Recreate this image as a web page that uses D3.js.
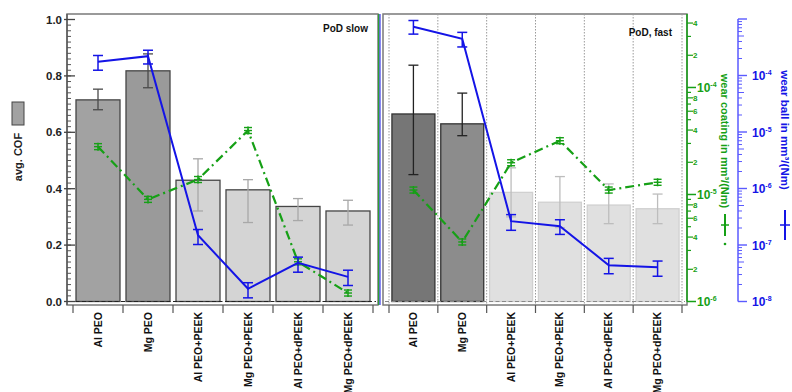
<!DOCTYPE html>
<html><head><meta charset="utf-8">
<script src="https://cdn.jsdelivr.net/npm/d3@7"></script>
<style>
html,body{margin:0;padding:0;background:#fff;}
svg{display:block;font-family:"Liberation Sans",Arial,sans-serif;font-weight:bold;}
</style></head>
<body>
<svg id="chart" width="792" height="392"></svg>
<script>
const categories = ["Al PEO","Mg PEO","Al PEO+PEEK","Mg PEO+PEEK","Al PEO+dPEEK","Mg PEO+dPEEK"];
const panelTitles = ["PoD slow","PoD, fast"];
// avg. COF
const cofSlow   = [0.715,0.818,0.430,0.396,0.337,0.321];
const cofSlowLo = [0.680,0.758,0.321,0.280,0.287,0.271];
const cofSlowHi = [0.753,0.878,0.506,0.432,0.365,0.359];
const cofFast   = [0.665,0.630,0.387,0.352,0.342,0.329];
const cofFastLo = [0.450,0.588,0.300,0.262,0.276,0.276];
const cofFastHi = [0.838,0.739,0.474,0.443,0.417,0.381];
// wear coating mm^3/(Nm)
const coatSlow = [2.8e-5,9.0e-6,1.38e-5,3.96e-5,2.35e-6,1.2e-6];
const coatFast = [1.1e-5,3.6e-6,1.98e-5,3.18e-5,1.1e-5,1.3e-5];
// wear ball mm^3/(Nm)
const ballSlow   = [1.75e-4,2.2e-4,1.49e-7,1.68e-8,4.84e-8,2.73e-8];
const ballSlowLo = [1.24e-4,1.6e-4,1.02e-7,1.16e-8,3.3e-8,1.92e-8];
const ballSlowHi = [2.26e-4,2.8e-4,1.88e-7,2.15e-8,6.1e-8,3.58e-8];
const ballFast   = [7.27e-4,4.47e-4,2.64e-7,2.15e-7,4.39e-8,4.05e-8];
const ballFastLo = [5.4e-4,3.2e-4,1.82e-7,1.54e-7,3.1e-8,2.8e-8];
const ballFastHi = [9.4e-4,5.8e-4,3.45e-7,2.8e-7,5.8e-8,5.2e-8];
// axis ticks
const cofTicks = [0,0.2,0.4,0.6,0.8,1.0];
const coatDecades = [1e-6,1e-5,1e-4];
const ballDecades = [1e-8,1e-7,1e-6,1e-5,1e-4];

const svg = d3.select("#chart");
const Y0 = 301.5, FRAME_T = 14, FRAME_B = 305;
const yCof = d3.scaleLinear().domain([0,1]).range([Y0,19.5]);
const yCoat = d3.scaleLog().domain([1e-6,4.86e-4]).range([Y0,FRAME_T]);
const yBall = d3.scaleLog().domain([1e-8,1e-3]).range([Y0,19]);

const green = "#16a016", blue = "#1414e6";

const panels = [
  {x0:67,x1:378,b0:73,b1:373,title:panelTitles[0],tx:368,ty:32,
   cof:cofSlow,lo:cofSlowLo,hi:cofSlowHi,coat:coatSlow,ball:ballSlow,bLo:ballSlowLo,bHi:ballSlowHi,
   fills:["#a2a2a2","#9a9a9a","#d4d4d4","#d4d4d4","#d4d4d4","#d4d4d4"],
   strokes:["#454545","#454545","#454545","#454545","#454545","#454545"],
   err:["#4a4a4a","#4a4a4a","#a8a8a8","#a8a8a8","#a8a8a8","#a8a8a8"], grid:false},
  {x0:383,x1:687,b0:389,b1:682,title:panelTitles[1],tx:672,ty:36,
   cof:cofFast,lo:cofFastLo,hi:cofFastHi,coat:coatFast,ball:ballFast,bLo:ballFastLo,bHi:ballFastHi,
   fills:["#767676","#8c8c8c","#e0e0e0","#e0e0e0","#e0e0e0","#e0e0e0"],
   strokes:["#333","#333","#d0d0d0","#d0d0d0","#d0d0d0","#d0d0d0"],
   err:["#222","#222","#bdbdbd","#bdbdbd","#bdbdbd","#bdbdbd"], grid:true}
];

panels.forEach((p,pi)=>{
  const g = svg.append("g");
  const x = d3.scaleBand().domain(categories).range([p.b0,p.b1]).paddingInner(0.12).paddingOuter(0.06);
  const xc = d => x(d)+x.bandwidth()/2;
  const step = (p.b1-p.b0)/categories.length;
  const bounds = d3.range(categories.length+1).map(i=>p.b0+i*step);
  g.append("rect").attr("x",p.x0).attr("y",FRAME_T).attr("width",p.x1-p.x0).attr("height",FRAME_B-FRAME_T)
    .attr("fill","none").attr("stroke","#7a7a7a").attr("stroke-width",1.5);
  if(p.grid){
    g.selectAll(".gl").data(bounds).join("line").attr("x1",d=>d).attr("x2",d=>d)
      .attr("y1",FRAME_T).attr("y2",FRAME_B).attr("stroke","#9a9a9a").attr("stroke-width",1).attr("stroke-dasharray","1.5,1.5");
  }
  g.selectAll(".bar").data(categories).join("rect")
    .attr("x",d=>x(d)).attr("width",x.bandwidth())
    .attr("y",(d,i)=>yCof(p.cof[i])).attr("height",(d,i)=>Y0-yCof(p.cof[i]))
    .attr("fill",(d,i)=>p.fills[i]).attr("stroke",(d,i)=>p.strokes[i]).attr("stroke-width",1.3);
  g.append("line").attr("x1",p.x0+2).attr("x2",p.x1-2).attr("y1",Y0).attr("y2",Y0)
    .attr("stroke",pi===0?"#222":"#888").attr("stroke-width",1.2).attr("stroke-dasharray","4,2.5");
  categories.forEach((c,i)=>{
    const cx = xc(c), c1 = p.err[i];
    g.append("line").attr("x1",cx).attr("x2",cx).attr("y1",yCof(p.lo[i])).attr("y2",yCof(p.hi[i])).attr("stroke",c1).attr("stroke-width",1.3);
    [p.lo[i],p.hi[i]].forEach(v=>g.append("line").attr("x1",cx-5).attr("x2",cx+5).attr("y1",yCof(v)).attr("y2",yCof(v)).attr("stroke",c1).attr("stroke-width",1.3));
  });
  g.selectAll(".xt").data(bounds).join("line").attr("x1",d=>d).attr("x2",d=>d)
    .attr("y1",FRAME_B).attr("y2",FRAME_B+8).attr("stroke","#555").attr("stroke-width",1.2);
  g.selectAll(".xl").data(categories).join("text")
    .attr("transform",d=>`translate(${xc(d)+3.5},312) rotate(-90)`)
    .attr("text-anchor","end").attr("font-size",10.5).attr("fill","#111").text(d=>d);
  const lineCoat = d3.line().x((d,i)=>xc(categories[i])).y(d=>yCoat(d));
  g.append("path").datum(p.coat).attr("d",lineCoat).attr("fill","none").attr("stroke",green)
    .attr("stroke-width",2.2).attr("stroke-dasharray","9,4,2,4");
  p.coat.forEach((v,i)=>{
    const cx=xc(categories[i]), cy=yCoat(v);
    g.append("line").attr("x1",cx).attr("x2",cx).attr("y1",cy-4).attr("y2",cy+4).attr("stroke",green).attr("stroke-width",1.5);
    [-3,0,3].forEach(o=>g.append("line").attr("x1",cx-4).attr("x2",cx+4).attr("y1",cy+o).attr("y2",cy+o).attr("stroke",green).attr("stroke-width",1.4));
  });
  const lineBall = d3.line().x((d,i)=>xc(categories[i])).y(d=>yBall(d));
  g.append("path").datum(p.ball).attr("d",lineBall).attr("fill","none").attr("stroke",blue).attr("stroke-width",2);
  p.ball.forEach((v,i)=>{
    const cx=xc(categories[i]);
    g.append("line").attr("x1",cx).attr("x2",cx).attr("y1",yBall(p.bLo[i])).attr("y2",yBall(p.bHi[i])).attr("stroke",blue).attr("stroke-width",1.5);
    [p.bLo[i],p.bHi[i]].forEach(e=>g.append("line").attr("x1",cx-5).attr("x2",cx+5).attr("y1",yBall(e)).attr("y2",yBall(e)).attr("stroke",blue).attr("stroke-width",1.5));
  });
  g.append("text").attr("x",p.tx).attr("y",p.ty).attr("text-anchor","end").attr("font-size",10).attr("fill","#111").text(p.title);
});

svg.append("line").attr("x1",378.8).attr("x2",378.8).attr("y1",FRAME_T).attr("y2",FRAME_B).attr("stroke",green).attr("stroke-width",1.2);
svg.append("line").attr("x1",380).attr("x2",380).attr("y1",FRAME_T).attr("y2",FRAME_B).attr("stroke",blue).attr("stroke-width",1);

// left COF axis
const gl = svg.append("g");
gl.append("line").attr("x1",67).attr("x2",67).attr("y1",FRAME_T).attr("y2",FRAME_B).attr("stroke","#555").attr("stroke-width",1.3);
const minor = d3.range(0,1.0001,0.02);
gl.selectAll(".mt").data(minor).join("line").attr("x1",67).attr("x2",71).attr("y1",d=>yCof(d)).attr("y2",d=>yCof(d)).attr("stroke","#555").attr("stroke-width",1);
gl.selectAll(".Mt").data(cofTicks).join("line").attr("x1",64).attr("x2",75).attr("y1",d=>yCof(d)).attr("y2",d=>yCof(d)).attr("stroke","#444").attr("stroke-width",1.3);
gl.selectAll(".ml").data(cofTicks).join("text").attr("x",62).attr("y",d=>yCof(d)).attr("dy","0.35em")
  .attr("text-anchor","end").attr("font-size",11.5).attr("fill","#222").text(d=>d3.format(".1f")(d));
gl.append("rect").attr("x",12).attr("y",102).attr("width",12).attr("height",23).attr("fill","#a2a2a2").attr("stroke","#444").attr("stroke-width",1);
gl.append("text").attr("transform","translate(22,157) rotate(-90)").attr("text-anchor","middle").attr("font-size",11).attr("fill","#222").text("avg. COF");

// green coating axis
const gg = svg.append("g");
const GX = 687;
gg.append("line").attr("x1",GX).attr("x2",GX).attr("y1",FRAME_T).attr("y2",Y0).attr("stroke",green).attr("stroke-width",1.5);
const coatMinor = [];
coatDecades.forEach(dec=>{ for(let m=2;m<=9;m++){ const v=m*dec; if(v<=yCoat.domain()[1]) coatMinor.push({v,m}); } });
gg.selectAll(".cm").data(coatMinor).join("line").attr("x1",GX).attr("x2",d=>GX+([2,4,6,8].includes(d.m)?6:4))
  .attr("y1",d=>yCoat(d.v)).attr("y2",d=>yCoat(d.v)).attr("stroke",green).attr("stroke-width",1.2);
gg.selectAll(".cml").data(coatMinor.filter(d=>[2,4,6,8].includes(d.m))).join("text")
  .attr("x",GX+6).attr("y",d=>yCoat(d.v)).attr("dy","0.35em").attr("font-size",8).attr("fill",green).text(d=>d.m);
gg.selectAll(".cM").data(coatDecades).join("line").attr("x1",GX).attr("x2",GX+9).attr("y1",d=>yCoat(d)).attr("y2",d=>yCoat(d)).attr("stroke",green).attr("stroke-width",1.5);
const cl = gg.selectAll(".cMl").data(coatDecades).join("text").attr("x",GX+10).attr("y",d=>yCoat(d)).attr("dy","0.4em").attr("font-size",12).attr("fill",green);
cl.append("tspan").text("10");
cl.append("tspan").attr("dy","-0.75em").attr("font-size",7).text(d=>Math.round(Math.log10(d)));
gg.append("text").attr("transform","translate(721,141) rotate(90)").attr("text-anchor","middle").attr("font-size",11).attr("fill",green).text("wear coating in mm³/(Nm)");
gg.append("line").attr("x1",725).attr("x2",725).attr("y1",214).attr("y2",236).attr("stroke",green).attr("stroke-width",2);
gg.append("line").attr("x1",721).attr("x2",729).attr("y1",225).attr("y2",225).attr("stroke",green).attr("stroke-width",1.5);
gg.append("circle").attr("cx",725).attr("cy",244).attr("r",1.3).attr("fill",green);

// blue ball axis
const gb = svg.append("g");
const BX = 738;
gb.append("line").attr("x1",BX).attr("x2",BX).attr("y1",yBall(1e-3)).attr("y2",Y0).attr("stroke","#5a5aff").attr("stroke-width",1.5);
const ballMinor = [];
ballDecades.forEach(dec=>{ for(let m=2;m<=9;m++){ ballMinor.push({v:m*dec,m}); } });
gb.selectAll(".bm").data(ballMinor).join("line").attr("x1",BX).attr("x2",d=>BX+(d.m===5?6:4))
  .attr("y1",d=>yBall(d.v)).attr("y2",d=>yBall(d.v)).attr("stroke","#5a5aff").attr("stroke-width",1);
gb.selectAll(".bM").data([...ballDecades,1e-3]).join("line").attr("x1",BX).attr("x2",BX+9).attr("y1",d=>yBall(d)).attr("y2",d=>yBall(d)).attr("stroke","#5a5aff").attr("stroke-width",1.4);
const bl = gb.selectAll(".bMl").data(ballDecades).join("text").attr("x",BX+14).attr("y",d=>yBall(d)).attr("dy","0.4em").attr("font-size",12).attr("fill",blue);
bl.append("tspan").text("10");
bl.append("tspan").attr("dy","-0.75em").attr("font-size",7).text(d=>Math.round(Math.log10(d)));
gb.append("text").attr("transform","translate(781,130) rotate(90)").attr("text-anchor","middle").attr("font-size",11.5).attr("fill",blue).text("wear ball in mm³/(Nm)");
gb.append("line").attr("x1",785).attr("x2",785).attr("y1",210).attr("y2",240).attr("stroke",blue).attr("stroke-width",2);
gb.append("line").attr("x1",780).attr("x2",790).attr("y1",225).attr("y2",225).attr("stroke",blue).attr("stroke-width",1.5);
</script>
</body></html>
